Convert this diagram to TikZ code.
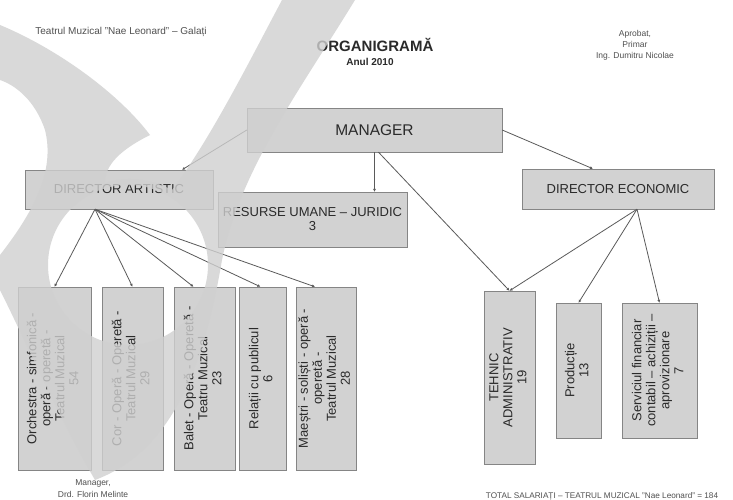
\documentclass[tikz,border=0pt]{standalone}
\usepackage{fontspec}
\setmainfont{Liberation Sans}
\usepackage{graphicx}
\usetikzlibrary{arrows.meta}
\definecolor{boxfill}{HTML}{D2D2D2}
\definecolor{boxline}{HTML}{858585}
\definecolor{linkcol}{HTML}{5A5A5A}
\definecolor{inkcol}{HTML}{2A2A2A}
\definecolor{smallcol}{HTML}{505050}
\definecolor{markcol}{HTML}{D0D0D0}
\newcommand{\vtext}[1]{\rotatebox{90}{\begin{tabular}{@{}c@{}}#1\end{tabular}}}
\tikzset{
    every node/.style={align=center,text=inkcol},
    unit/.style={draw=boxline,fill=boxfill,rectangle,inner sep=0pt,font=\fontsize{13}{14}\selectfont},
    link/.style={draw=linkcol,line width=0.8pt,-{Latex[length=3pt,width=3pt]}},
    note/.style={text=smallcol,font=\fontsize{8.5}{11}\selectfont},
    watermark/.style={fill=markcol,fill opacity=0.8,even odd rule},
}

\begin{document}
\begin{tikzpicture}[x=1pt,y=-1pt]
                \useasboundingbox[fill=white] (0,0) rectangle (733,500);

                % titles
                \node[note,font=\fontsize{10}{12}\selectfont] (theatre) at (121,32) {Teatrul Muzical "Nae Leonard" – Galați};
                \node[font=\fontsize{15}{17}\selectfont\bfseries] (title) at (375,45) {ORGANIGRAMĂ};
                \node[font=\fontsize{10}{12}\selectfont\bfseries] (year) at (370,62) {Anul 2010};
                \node[note] (approved) at (635,45) {Aprobat,\\Primar\\Ing. Dumitru Nicolae};

                % top levels
                \node[unit,minimum width=255,minimum height=44,font=\fontsize{15.5}{17}\selectfont] (manager) at (374.5,130) {MANAGER};
                \node[unit,minimum width=188,minimum height=39] (dirart) at (119,189.5) {DIRECTOR ARTISTIC};
                \node[unit,minimum width=189,minimum height=55] (hr) at (312.5,219.5) {RESURSE UMANE – JURIDIC\\3};
                \node[unit,minimum width=192,minimum height=40] (direco) at (618,189) {DIRECTOR ECONOMIC};

                % artistic units
                \node[unit,minimum width=73,minimum height=183] (orch) at (54.5,378.5) {\vtext{Orchestra - simfonică -\\operă - operetă -\\Teatrul Muzical\\54}};
                \node[unit,minimum width=61,minimum height=183] (choir) at (132.5,378.5) {\vtext{Cor - Operă - Operetă -\\Teatrul Muzical\\29}};
                \node[unit,minimum width=61,minimum height=183] (ballet) at (204.5,378.5) {\vtext{Balet - Operă - Operetă -\\Teatru Muzical\\23}};
                \node[unit,minimum width=47,minimum height=183] (pr) at (262.5,378.5) {\vtext{Relații cu publicul\\6}};
                \node[unit,minimum width=60,minimum height=183] (masters) at (326,378.5) {\vtext{Maeștri - soliști - operă -\\operetă -\\Teatrul Muzical\\28}};

                % economic units
                \node[unit,minimum width=51,minimum height=173] (tech) at (509.5,377.5) {\vtext{TEHNIC\\ADMINISTRATIV\\19}};
                \node[unit,minimum width=45,minimum height=135] (prod) at (578.5,370.5) {\vtext{Producție\\13}};
                \node[unit,minimum width=75,minimum height=135] (finance) at (659.5,370.5) {\vtext{Serviciul financiar\\contabil – achiziții –\\aprovizionare\\7}};

                % signatures
                \node[note,font=\fontsize{8.5}{12}\selectfont] (signed) at (93,489) {Manager,\\Drd. Florin Melinte};
                \node[note,font=\fontsize{8.2}{9}\selectfont] (total) at (602,496) {TOTAL SALARIAȚI – TEATRUL MUZICAL "Nae Leonard" = 184};

                % links
                \draw[link] (manager.west) to ([xshift=63pt]dirart.north);
                \draw[link] (manager.south) to (manager.south |- hr.north);
                \draw[link] (manager.east) to ([xshift=-25pt]direco.north);
                \draw[link] ([xshift=4pt]manager.south) to (tech.north);

                \foreach \unit/\dx in {orch/0,choir/0,ballet/-11,pr/-2,masters/-11}
                    \draw[link] ([xshift=-24pt]dirart.south) to ([xshift=\dx pt]\unit.north);

                \foreach \unit in {tech,prod,finance}
                    \draw[link] ([xshift=19pt]direco.south) to (\unit.north);

                % background logo, lying over the chart
                \path[watermark] (0,25)
                    .. controls (60,50) and (120,95) .. (150,135)
                    .. controls (120,150) and (105,165) .. (105,183)
                    .. controls (125,176) and (150,178) .. (172,190)
                    .. controls (210,140) and (250,60) .. (282,0)
                    -- (355,0)
                    .. controls (300,90) and (240,170) .. (222,260)
                    .. controls (205,360) and (175,450) .. (95,480)
                    .. controls (60,420) and (25,340) .. (0,290)
                    -- (0,255)
                    .. controls (35,210) and (55,170) .. (45,130)
                    .. controls (35,100) and (15,85) .. (0,80)
                    -- cycle
                    (128,265) circle[radius=80];
            \end{tikzpicture}
\end{document}
